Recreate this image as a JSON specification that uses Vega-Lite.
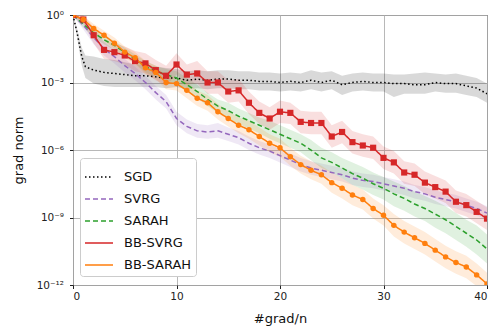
{
  "$schema": "https://vega.github.io/schema/vega-lite/v6.json",
  "width": 414,
  "height": 270,
  "autosize": "none",
  "padding": {"left": 73, "top": 15, "right": 7, "bottom": 45},
  "background": "white",
  "config": {
    "font": "DejaVu Sans",
    "view": {"stroke": "#222", "strokeWidth": 1},
    "axis": {"gridColor": "#b0b0b0", "gridWidth": 1, "gridOpacity": 0.9, "domain": false, "tickColor": "#222", "tickSize": 3.5, "labelColor": "#222", "titleColor": "#111", "labelFontSize": 10.5, "titleFontSize": 13, "titleFontWeight": "normal"}
  },
  "data": {"values": [
    {"m":"SGD","x":0,"y":1,"lo":0.794,"hi":1},
    {"m":"SGD","x":0.4,"y":1.585e-1,"lo":1e-1,"hi":2.512e-1},
    {"m":"SGD","x":0.85,"y":1.413e-2,"lo":5.623e-3,"hi":3.548e-2},
    {"m":"SGD","x":1.2,"y":5.012e-3,"lo":1.585e-3,"hi":1.585e-2},
    {"m":"SGD","x":2,"y":3.548e-3,"lo":8.913e-4,"hi":1.413e-2},
    {"m":"SGD","x":3,"y":2.818e-3,"lo":7.079e-4,"hi":1.122e-2},
    {"m":"SGD","x":4,"y":2.512e-3,"lo":6.31e-4,"hi":1e-2},
    {"m":"SGD","x":5,"y":2.239e-3,"lo":6.31e-4,"hi":7.943e-3},
    {"m":"SGD","x":6,"y":1.995e-3,"lo":6.31e-4,"hi":6.31e-3},
    {"m":"SGD","x":7,"y":1.995e-3,"lo":6.31e-4,"hi":6.31e-3},
    {"m":"SGD","x":8,"y":1.778e-3,"lo":6.31e-4,"hi":5.012e-3},
    {"m":"SGD","x":9,"y":1.585e-3,"lo":5.623e-4,"hi":4.467e-3},
    {"m":"SGD","x":10,"y":1.585e-3,"lo":6.31e-4,"hi":3.981e-3},
    {"m":"SGD","x":11,"y":1.259e-3,"lo":5.012e-4,"hi":3.162e-3},
    {"m":"SGD","x":12,"y":1.413e-3,"lo":5.623e-4,"hi":3.548e-3},
    {"m":"SGD","x":13,"y":1.259e-3,"lo":5.012e-4,"hi":3.162e-3},
    {"m":"SGD","x":14,"y":1.413e-3,"lo":5.623e-4,"hi":3.548e-3},
    {"m":"SGD","x":15,"y":1.413e-3,"lo":5.623e-4,"hi":3.548e-3},
    {"m":"SGD","x":16,"y":1.259e-3,"lo":5.012e-4,"hi":3.162e-3},
    {"m":"SGD","x":17,"y":1.259e-3,"lo":5.012e-4,"hi":3.162e-3},
    {"m":"SGD","x":18,"y":1.122e-3,"lo":4.467e-4,"hi":2.818e-3},
    {"m":"SGD","x":19,"y":1.122e-3,"lo":4.467e-4,"hi":2.818e-3},
    {"m":"SGD","x":20,"y":1e-3,"lo":3.981e-4,"hi":2.512e-3},
    {"m":"SGD","x":21,"y":1.122e-3,"lo":4.467e-4,"hi":2.818e-3},
    {"m":"SGD","x":22,"y":1e-3,"lo":3.981e-4,"hi":2.512e-3},
    {"m":"SGD","x":23,"y":1.259e-3,"lo":5.012e-4,"hi":3.548e-3},
    {"m":"SGD","x":24,"y":1e-3,"lo":3.981e-4,"hi":2.818e-3},
    {"m":"SGD","x":25,"y":1.259e-3,"lo":5.012e-4,"hi":3.162e-3},
    {"m":"SGD","x":26,"y":7.943e-4,"lo":2.818e-4,"hi":1.995e-3},
    {"m":"SGD","x":27,"y":1e-3,"lo":3.981e-4,"hi":2.512e-3},
    {"m":"SGD","x":28,"y":1.122e-3,"lo":4.467e-4,"hi":2.818e-3},
    {"m":"SGD","x":29,"y":1e-3,"lo":3.981e-4,"hi":2.512e-3},
    {"m":"SGD","x":30,"y":1e-3,"lo":3.981e-4,"hi":2.512e-3},
    {"m":"SGD","x":31,"y":8.913e-4,"lo":2.239e-4,"hi":2.239e-3},
    {"m":"SGD","x":32,"y":8.913e-4,"lo":3.162e-4,"hi":2.239e-3},
    {"m":"SGD","x":33,"y":7.943e-4,"lo":3.162e-4,"hi":2.512e-3},
    {"m":"SGD","x":34,"y":7.943e-4,"lo":3.162e-4,"hi":2.818e-3},
    {"m":"SGD","x":35,"y":1e-3,"lo":3.981e-4,"hi":2.512e-3},
    {"m":"SGD","x":36,"y":8.913e-4,"lo":3.548e-4,"hi":2.239e-3},
    {"m":"SGD","x":37,"y":8.913e-4,"lo":3.548e-4,"hi":2.512e-3},
    {"m":"SGD","x":38,"y":7.079e-4,"lo":2.818e-4,"hi":1.995e-3},
    {"m":"SGD","x":39,"y":5.623e-4,"lo":2.239e-4,"hi":1.585e-3},
    {"m":"SGD","x":40,"y":3.162e-4,"lo":1.259e-4,"hi":8.913e-4},

    {"m":"SVRG","x":0,"y":1,"lo":8.913e-1,"hi":1},
    {"m":"SVRG","x":1,"y":3.548e-1,"lo":2.239e-1,"hi":5.623e-1},
    {"m":"SVRG","x":2,"y":1e-1,"lo":5.012e-2,"hi":1.995e-1},
    {"m":"SVRG","x":3,"y":3.162e-2,"lo":1.585e-2,"hi":6.31e-2},
    {"m":"SVRG","x":4,"y":1.413e-2,"lo":7.079e-3,"hi":2.818e-2},
    {"m":"SVRG","x":5,"y":5.623e-3,"lo":2.818e-3,"hi":1.122e-2},
    {"m":"SVRG","x":6,"y":2.512e-3,"lo":1.259e-3,"hi":5.012e-3},
    {"m":"SVRG","x":7,"y":1e-3,"lo":5.012e-4,"hi":1.995e-3},
    {"m":"SVRG","x":8,"y":3.548e-4,"lo":1.778e-4,"hi":7.079e-4},
    {"m":"SVRG","x":9,"y":1.413e-4,"lo":7.079e-5,"hi":2.818e-4},
    {"m":"SVRG","x":10,"y":2.512e-5,"lo":1.259e-5,"hi":5.012e-5},
    {"m":"SVRG","x":11,"y":1.122e-5,"lo":5.623e-6,"hi":2.239e-5},
    {"m":"SVRG","x":12,"y":7.079e-6,"lo":3.548e-6,"hi":1.413e-5},
    {"m":"SVRG","x":13,"y":6.31e-6,"lo":3.162e-6,"hi":1.259e-5},
    {"m":"SVRG","x":14,"y":7.079e-6,"lo":3.548e-6,"hi":1.585e-5},
    {"m":"SVRG","x":15,"y":5.012e-6,"lo":2.512e-6,"hi":1e-5},
    {"m":"SVRG","x":16,"y":3.548e-6,"lo":1.778e-6,"hi":7.079e-6},
    {"m":"SVRG","x":17,"y":1.995e-6,"lo":1e-6,"hi":3.981e-6},
    {"m":"SVRG","x":18,"y":1.259e-6,"lo":6.31e-7,"hi":2.512e-6},
    {"m":"SVRG","x":19,"y":8.913e-7,"lo":4.467e-7,"hi":1.778e-6},
    {"m":"SVRG","x":20,"y":5.623e-7,"lo":2.818e-7,"hi":1.122e-6},
    {"m":"SVRG","x":21,"y":3.548e-7,"lo":1.778e-7,"hi":7.079e-7},
    {"m":"SVRG","x":22,"y":2.239e-7,"lo":1.122e-7,"hi":4.467e-7},
    {"m":"SVRG","x":23,"y":1.585e-7,"lo":7.943e-8,"hi":3.162e-7},
    {"m":"SVRG","x":24,"y":1.259e-7,"lo":6.31e-8,"hi":2.512e-7},
    {"m":"SVRG","x":25,"y":1e-7,"lo":5.012e-8,"hi":1.995e-7},
    {"m":"SVRG","x":26,"y":7.943e-8,"lo":3.981e-8,"hi":1.585e-7},
    {"m":"SVRG","x":27,"y":5.623e-8,"lo":2.818e-8,"hi":1.122e-7},
    {"m":"SVRG","x":28,"y":4.467e-8,"lo":2.239e-8,"hi":8.913e-8},
    {"m":"SVRG","x":29,"y":3.981e-8,"lo":1.995e-8,"hi":7.943e-8},
    {"m":"SVRG","x":30,"y":3.162e-8,"lo":1.585e-8,"hi":6.31e-8},
    {"m":"SVRG","x":31,"y":2.512e-8,"lo":1.259e-8,"hi":5.012e-8},
    {"m":"SVRG","x":32,"y":1.995e-8,"lo":1e-8,"hi":3.981e-8},
    {"m":"SVRG","x":33,"y":1.413e-8,"lo":7.079e-9,"hi":2.818e-8},
    {"m":"SVRG","x":34,"y":1.122e-8,"lo":5.623e-9,"hi":2.239e-8},
    {"m":"SVRG","x":35,"y":7.943e-9,"lo":3.981e-9,"hi":1.585e-8},
    {"m":"SVRG","x":36,"y":6.31e-9,"lo":3.162e-9,"hi":1.259e-8},
    {"m":"SVRG","x":37,"y":5.012e-9,"lo":2.512e-9,"hi":1e-8},
    {"m":"SVRG","x":38,"y":3.548e-9,"lo":1.778e-9,"hi":7.079e-9},
    {"m":"SVRG","x":39,"y":2.512e-9,"lo":1.259e-9,"hi":5.012e-9},
    {"m":"SVRG","x":40,"y":1.585e-9,"lo":7.943e-10,"hi":3.162e-9},

    {"m":"SARAH","x":0,"y":1,"lo":8.913e-1,"hi":1},
    {"m":"SARAH","x":1,"y":3.981e-1,"lo":2.818e-1,"hi":5.623e-1},
    {"m":"SARAH","x":2,"y":1.585e-1,"lo":1e-1,"hi":2.512e-1},
    {"m":"SARAH","x":3,"y":7.943e-2,"lo":5.012e-2,"hi":1.259e-1},
    {"m":"SARAH","x":4,"y":4.467e-2,"lo":2.818e-2,"hi":7.079e-2},
    {"m":"SARAH","x":5,"y":2.239e-2,"lo":1.413e-2,"hi":3.548e-2},
    {"m":"SARAH","x":6,"y":1.122e-2,"lo":7.079e-3,"hi":1.778e-2},
    {"m":"SARAH","x":7,"y":5.012e-3,"lo":2.818e-3,"hi":8.913e-3},
    {"m":"SARAH","x":8,"y":3.162e-3,"lo":1.778e-3,"hi":5.623e-3},
    {"m":"SARAH","x":9,"y":2.239e-3,"lo":1.259e-3,"hi":3.981e-3},
    {"m":"SARAH","x":10,"y":1.585e-3,"lo":7.943e-4,"hi":3.162e-3},
    {"m":"SARAH","x":11,"y":7.943e-4,"lo":3.981e-4,"hi":1.585e-3},
    {"m":"SARAH","x":12,"y":3.981e-4,"lo":1.995e-4,"hi":7.943e-4},
    {"m":"SARAH","x":13,"y":1.778e-4,"lo":8.913e-5,"hi":3.548e-4},
    {"m":"SARAH","x":14,"y":8.913e-5,"lo":4.467e-5,"hi":1.778e-4},
    {"m":"SARAH","x":15,"y":5.623e-5,"lo":2.512e-5,"hi":1.259e-4},
    {"m":"SARAH","x":16,"y":3.162e-5,"lo":1.413e-5,"hi":7.079e-5},
    {"m":"SARAH","x":17,"y":1.995e-5,"lo":8.913e-6,"hi":4.467e-5},
    {"m":"SARAH","x":18,"y":1.259e-5,"lo":5.623e-6,"hi":2.818e-5},
    {"m":"SARAH","x":19,"y":7.943e-6,"lo":3.162e-6,"hi":1.995e-5},
    {"m":"SARAH","x":20,"y":5.012e-6,"lo":1.995e-6,"hi":1.259e-5},
    {"m":"SARAH","x":21,"y":3.162e-6,"lo":1.259e-6,"hi":7.943e-6},
    {"m":"SARAH","x":22,"y":1.995e-6,"lo":7.943e-7,"hi":5.012e-6},
    {"m":"SARAH","x":23,"y":1e-6,"lo":3.548e-7,"hi":2.818e-6},
    {"m":"SARAH","x":24,"y":4.467e-7,"lo":1.585e-7,"hi":1.259e-6},
    {"m":"SARAH","x":25,"y":2.818e-7,"lo":1e-7,"hi":7.943e-7},
    {"m":"SARAH","x":26,"y":1.585e-7,"lo":5.623e-8,"hi":4.467e-7},
    {"m":"SARAH","x":27,"y":8.913e-8,"lo":2.818e-8,"hi":2.818e-7},
    {"m":"SARAH","x":28,"y":5.623e-8,"lo":1.778e-8,"hi":1.778e-7},
    {"m":"SARAH","x":29,"y":3.162e-8,"lo":1e-8,"hi":1e-7},
    {"m":"SARAH","x":30,"y":1.995e-8,"lo":6.31e-9,"hi":6.31e-8},
    {"m":"SARAH","x":31,"y":1.122e-8,"lo":3.162e-9,"hi":3.981e-8},
    {"m":"SARAH","x":32,"y":7.079e-9,"lo":1.995e-9,"hi":2.512e-8},
    {"m":"SARAH","x":33,"y":3.981e-9,"lo":1.122e-9,"hi":1.413e-8},
    {"m":"SARAH","x":34,"y":2.512e-9,"lo":7.079e-10,"hi":8.913e-9},
    {"m":"SARAH","x":35,"y":1.413e-9,"lo":3.548e-10,"hi":5.623e-9},
    {"m":"SARAH","x":36,"y":7.943e-10,"lo":1.995e-10,"hi":3.162e-9},
    {"m":"SARAH","x":37,"y":3.981e-10,"lo":1e-10,"hi":1.585e-9},
    {"m":"SARAH","x":38,"y":1.995e-10,"lo":5.012e-11,"hi":7.943e-10},
    {"m":"SARAH","x":39,"y":1e-10,"lo":2.239e-11,"hi":4.467e-10},
    {"m":"SARAH","x":40,"y":3.981e-11,"lo":8.913e-12,"hi":1.778e-10},

    {"m":"BB-SVRG","x":0,"y":1,"lo":7.943e-1,"hi":1},
    {"m":"BB-SVRG","x":1,"y":6.31e-1,"lo":3.981e-1,"hi":1},
    {"m":"BB-SVRG","x":2,"y":1.259e-1,"lo":5.623e-2,"hi":2.818e-1},
    {"m":"BB-SVRG","x":3,"y":2.818e-2,"lo":1.122e-2,"hi":7.079e-2},
    {"m":"BB-SVRG","x":4,"y":2.239e-2,"lo":8.913e-3,"hi":5.623e-2},
    {"m":"BB-SVRG","x":5,"y":1.585e-2,"lo":6.31e-3,"hi":3.981e-2},
    {"m":"BB-SVRG","x":6,"y":8.913e-3,"lo":3.162e-3,"hi":2.512e-2},
    {"m":"BB-SVRG","x":7,"y":7.079e-3,"lo":2.512e-3,"hi":1.995e-2},
    {"m":"BB-SVRG","x":8,"y":3.548e-3,"lo":1.259e-3,"hi":1e-2},
    {"m":"BB-SVRG","x":9,"y":1.995e-3,"lo":7.079e-4,"hi":5.623e-3},
    {"m":"BB-SVRG","x":10,"y":6.31e-3,"lo":2.239e-3,"hi":1.995e-2},
    {"m":"BB-SVRG","x":11,"y":2.239e-3,"lo":7.943e-4,"hi":6.31e-3},
    {"m":"BB-SVRG","x":12,"y":2.512e-3,"lo":8.913e-4,"hi":8.913e-3},
    {"m":"BB-SVRG","x":13,"y":1e-3,"lo":3.162e-4,"hi":3.162e-3},
    {"m":"BB-SVRG","x":14,"y":1e-3,"lo":3.162e-4,"hi":3.162e-3},
    {"m":"BB-SVRG","x":15,"y":3.981e-4,"lo":1.259e-4,"hi":1.259e-3},
    {"m":"BB-SVRG","x":16,"y":4.467e-4,"lo":1.413e-4,"hi":1.413e-3},
    {"m":"BB-SVRG","x":17,"y":1.259e-4,"lo":3.981e-5,"hi":3.981e-4},
    {"m":"BB-SVRG","x":18,"y":4.467e-5,"lo":1.413e-5,"hi":1.413e-4},
    {"m":"BB-SVRG","x":19,"y":2.512e-5,"lo":7.943e-6,"hi":7.943e-5},
    {"m":"BB-SVRG","x":20,"y":5.012e-5,"lo":1.585e-5,"hi":1.585e-4},
    {"m":"BB-SVRG","x":21,"y":4.467e-5,"lo":1.413e-5,"hi":1.259e-4},
    {"m":"BB-SVRG","x":22,"y":1.778e-5,"lo":5.623e-6,"hi":5.623e-5},
    {"m":"BB-SVRG","x":23,"y":1.585e-5,"lo":5.012e-6,"hi":5.012e-5},
    {"m":"BB-SVRG","x":24,"y":1.585e-5,"lo":5.012e-6,"hi":5.012e-5},
    {"m":"BB-SVRG","x":25,"y":3.981e-6,"lo":1.259e-6,"hi":1.259e-5},
    {"m":"BB-SVRG","x":26,"y":6.31e-6,"lo":1.995e-6,"hi":1.995e-5},
    {"m":"BB-SVRG","x":27,"y":2.239e-6,"lo":7.079e-7,"hi":7.079e-6},
    {"m":"BB-SVRG","x":28,"y":1.585e-6,"lo":5.012e-7,"hi":5.012e-6},
    {"m":"BB-SVRG","x":29,"y":1.259e-6,"lo":3.981e-7,"hi":3.981e-6},
    {"m":"BB-SVRG","x":30,"y":4.467e-7,"lo":1.413e-7,"hi":1.413e-6},
    {"m":"BB-SVRG","x":31,"y":2.818e-7,"lo":8.913e-8,"hi":8.913e-7},
    {"m":"BB-SVRG","x":32,"y":1e-7,"lo":3.162e-8,"hi":3.162e-7},
    {"m":"BB-SVRG","x":33,"y":7.943e-8,"lo":2.512e-8,"hi":2.512e-7},
    {"m":"BB-SVRG","x":34,"y":3.548e-8,"lo":1.122e-8,"hi":1.122e-7},
    {"m":"BB-SVRG","x":35,"y":2.239e-8,"lo":7.079e-9,"hi":7.079e-8},
    {"m":"BB-SVRG","x":36,"y":1.413e-8,"lo":4.467e-9,"hi":4.467e-8},
    {"m":"BB-SVRG","x":37,"y":5.012e-9,"lo":1.585e-9,"hi":1.585e-8},
    {"m":"BB-SVRG","x":38,"y":3.548e-9,"lo":1.122e-9,"hi":1.122e-8},
    {"m":"BB-SVRG","x":39,"y":1.778e-9,"lo":5.623e-10,"hi":5.623e-9},
    {"m":"BB-SVRG","x":40,"y":8.913e-10,"lo":2.818e-10,"hi":2.818e-9},

    {"m":"BB-SARAH","x":0,"y":1,"lo":8.913e-1,"hi":1},
    {"m":"BB-SARAH","x":1,"y":6.31e-1,"lo":4.467e-1,"hi":8.913e-1},
    {"m":"BB-SARAH","x":2,"y":2.512e-1,"lo":1.585e-1,"hi":3.981e-1},
    {"m":"BB-SARAH","x":3,"y":1.259e-1,"lo":7.943e-2,"hi":1.995e-1},
    {"m":"BB-SARAH","x":4,"y":5.623e-2,"lo":3.162e-2,"hi":1e-1},
    {"m":"BB-SARAH","x":5,"y":2.239e-2,"lo":1.259e-2,"hi":3.981e-2},
    {"m":"BB-SARAH","x":6,"y":1.259e-2,"lo":7.079e-3,"hi":2.239e-2},
    {"m":"BB-SARAH","x":7,"y":4.467e-3,"lo":2.239e-3,"hi":8.913e-3},
    {"m":"BB-SARAH","x":8,"y":2.818e-3,"lo":1.413e-3,"hi":5.623e-3},
    {"m":"BB-SARAH","x":9,"y":1e-3,"lo":5.012e-4,"hi":1.995e-3},
    {"m":"BB-SARAH","x":10,"y":8.913e-4,"lo":4.467e-4,"hi":1.778e-3},
    {"m":"BB-SARAH","x":11,"y":4.467e-4,"lo":1.995e-4,"hi":1e-3},
    {"m":"BB-SARAH","x":12,"y":1.995e-4,"lo":8.913e-5,"hi":4.467e-4},
    {"m":"BB-SARAH","x":13,"y":1.259e-4,"lo":5.623e-5,"hi":2.818e-4},
    {"m":"BB-SARAH","x":14,"y":5.012e-5,"lo":2.239e-5,"hi":1.122e-4},
    {"m":"BB-SARAH","x":15,"y":2.512e-5,"lo":1.122e-5,"hi":5.623e-5},
    {"m":"BB-SARAH","x":16,"y":1.259e-5,"lo":5.623e-6,"hi":2.818e-5},
    {"m":"BB-SARAH","x":17,"y":7.943e-6,"lo":3.162e-6,"hi":1.995e-5},
    {"m":"BB-SARAH","x":18,"y":3.981e-6,"lo":1.585e-6,"hi":1e-5},
    {"m":"BB-SARAH","x":19,"y":1.995e-6,"lo":7.943e-7,"hi":5.012e-6},
    {"m":"BB-SARAH","x":20,"y":1.259e-6,"lo":5.012e-7,"hi":3.162e-6},
    {"m":"BB-SARAH","x":21,"y":5.012e-7,"lo":1.995e-7,"hi":1.259e-6},
    {"m":"BB-SARAH","x":22,"y":2.239e-7,"lo":8.913e-8,"hi":5.623e-7},
    {"m":"BB-SARAH","x":23,"y":1.259e-7,"lo":5.012e-8,"hi":3.162e-7},
    {"m":"BB-SARAH","x":24,"y":7.943e-8,"lo":3.162e-8,"hi":1.995e-7},
    {"m":"BB-SARAH","x":25,"y":3.548e-8,"lo":1.259e-8,"hi":1e-7},
    {"m":"BB-SARAH","x":26,"y":1.995e-8,"lo":7.079e-9,"hi":5.623e-8},
    {"m":"BB-SARAH","x":27,"y":1e-8,"lo":3.548e-9,"hi":2.818e-8},
    {"m":"BB-SARAH","x":28,"y":6.31e-9,"lo":2.239e-9,"hi":1.778e-8},
    {"m":"BB-SARAH","x":29,"y":2.512e-9,"lo":8.913e-10,"hi":7.079e-9},
    {"m":"BB-SARAH","x":30,"y":1.259e-9,"lo":4.467e-10,"hi":3.548e-9},
    {"m":"BB-SARAH","x":31,"y":4.467e-10,"lo":1.413e-10,"hi":1.413e-9},
    {"m":"BB-SARAH","x":32,"y":2.239e-10,"lo":7.079e-11,"hi":7.079e-10},
    {"m":"BB-SARAH","x":33,"y":1.259e-10,"lo":3.981e-11,"hi":3.981e-10},
    {"m":"BB-SARAH","x":34,"y":7.079e-11,"lo":2.239e-11,"hi":2.239e-10},
    {"m":"BB-SARAH","x":35,"y":3.548e-11,"lo":1.122e-11,"hi":1.122e-10},
    {"m":"BB-SARAH","x":36,"y":1.778e-11,"lo":5.623e-12,"hi":5.623e-11},
    {"m":"BB-SARAH","x":37,"y":1e-11,"lo":3.162e-12,"hi":3.162e-11},
    {"m":"BB-SARAH","x":38,"y":6.31e-12,"lo":1.995e-12,"hi":1.995e-11},
    {"m":"BB-SARAH","x":39,"y":2.818e-12,"lo":8.913e-13,"hi":8.913e-12},
    {"m":"BB-SARAH","x":40,"y":1.122e-12,"lo":3.548e-13,"hi":3.548e-12}
  ]},
  "layer": [
    {
      "mark": {"type": "area", "fillOpacity": 0.15, "clip": true},
      "encoding": {
        "x": {"field": "x", "type": "quantitative", "scale": {"domain": [0, 40], "nice": false}},
        "y": {"field": "lo", "type": "quantitative", "scale": {"type": "log", "domain": [1e-12, 1], "nice": false}},
        "y2": {"field": "hi"},
        "color": {"field": "m", "type": "nominal", "scale": {"domain": ["SGD", "SVRG", "SARAH", "BB-SVRG", "BB-SARAH"], "range": ["#000000", "#9467bd", "#2ca02c", "#d62728", "#ff7f0e"]}}
      }
    },
    {
      "mark": {"type": "line", "strokeWidth": 1.5, "clip": true},
      "encoding": {
        "x": {"field": "x", "type": "quantitative", "title": "#grad/n",
              "axis": {"values": [0, 10, 20, 30, 40], "grid": true, "titlePadding": 10, "labelPadding": 3}},
        "y": {"field": "y", "type": "quantitative", "title": "grad norm",
              "axis": {"values": [1, 1e-3, 1e-6, 1e-9, 1e-12], "grid": true, "titlePadding": 11, "labelPadding": 6,
                       "labelExpr": "datum.value > 0.1 ? '10⁰' : datum.value > 1e-4 ? '10⁻³' : datum.value > 1e-7 ? '10⁻⁶' : datum.value > 1e-10 ? '10⁻⁹' : '10⁻¹²'"}},
        "color": {"field": "m", "type": "nominal",
                  "legend": {"title": null, "orient": "none", "legendX": 7, "legendY": 143, "symbolType": "stroke", "symbolSize": 784, "symbolStrokeWidth": 1.5, "symbolOpacity": 1, "symbolFillColor": "transparent", "labelFontSize": 13, "labelColor": "#111", "rowPadding": -6.5, "fillColor": "white", "strokeColor": "#cccccc", "cornerRadius": 3, "padding": 4, "labelOffset": 10}},
        "strokeDash": {"field": "m", "type": "nominal", "scale": {"domain": ["SGD", "SVRG", "SARAH", "BB-SVRG", "BB-SARAH"], "range": [[1.5, 2.5], [5, 3], [5, 3], [1, 0], [1, 0]]}}
      }
    },
    {
      "transform": [{"filter": "datum.m == 'BB-SVRG' || datum.m == 'BB-SARAH'"}],
      "mark": {"type": "point", "filled": true, "opacity": 1, "strokeWidth": 0, "clip": true},
      "encoding": {
        "x": {"field": "x", "type": "quantitative"},
        "y": {"field": "y", "type": "quantitative"},
        "color": {"field": "m", "type": "nominal"},
        "shape": {"field": "m", "type": "nominal", "scale": {"domain": ["BB-SVRG", "BB-SARAH"], "range": ["square", "circle"]}, "legend": null},
        "size": {"field": "m", "type": "nominal", "scale": {"domain": ["BB-SVRG", "BB-SARAH"], "range": [38, 30]}, "legend": null}
      }
    }
  ]
}
